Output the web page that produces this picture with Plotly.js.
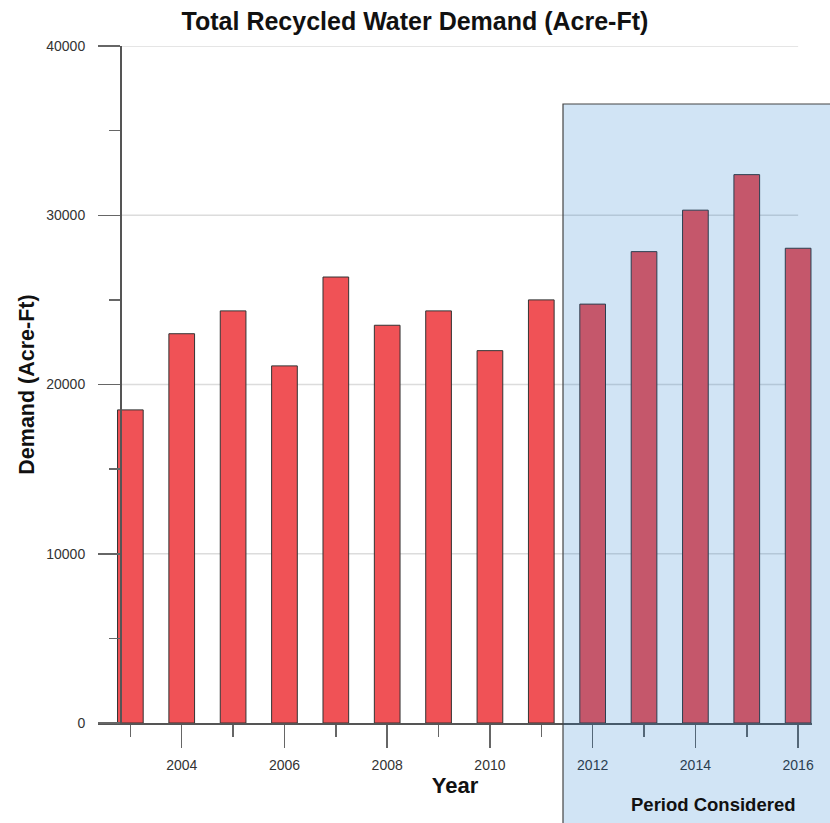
<!DOCTYPE html>
<html>
<head>
<meta charset="utf-8">
<script src="https://cdn.plot.ly/plotly-3.0.1.min.js"></script>
<style>html,body{margin:0;padding:0;background:#fff;}</style>
</head>
<body>
<div id="chart" style="width:830px;height:823px;"></div>
<script>
const years = [2003, 2004, 2005, 2006, 2007, 2008, 2009, 2010, 2011, 2012, 2013, 2014, 2015, 2016];
const demand = [18500, 23000, 24350, 21100, 26350, 23500, 24350, 22000, 25000, 24750, 27850, 30300, 32400, 28050];
const yMajorTicks = [0, 10000, 20000, 30000, 40000];
const yMinorTicks = [5000, 15000, 25000, 35000];
const xMajorTicks = [2004, 2006, 2008, 2010, 2012, 2014, 2016];
const xMinorTicks = [2003, 2005, 2007, 2009, 2011, 2013, 2015];

const FONT = 'Liberation Sans, Arial, sans-serif';

const gridShapes = yMajorTicks.filter(v => v > 0).map(v => ({
  type: 'line', xref: 'x', yref: 'y',
  x0: 2002.8, x1: years[years.length - 1], y0: v, y1: v,
  line: {color: '#dcdcdc', width: 1.5}, layer: 'below'
}));

const trace = {
  type: 'bar',
  x: years,
  y: demand,
  width: 0.5,
  marker: {color: 'rgb(240,82,86)', line: {color: '#333', width: 1}},
  hoverinfo: 'x+y'
};

const layout = {
  width: 830, height: 823, autosize: false,
  margin: {l: 98, r: 18, t: 46, b: 100, pad: 0},
  paper_bgcolor: '#fff', plot_bgcolor: 'rgba(0,0,0,0)',
  font: {family: FONT, color: '#333'},
  showlegend: false,
  title: {
    text: '<b>Total Recycled Water Demand (Acre-Ft)</b>',
    font: {family: FONT, size: 25, color: '#111'},
    x: 0.5, xanchor: 'center', y: 1 - 21 / 823, yanchor: 'middle'
  },
  xaxis: {
    range: [2002.37, 2016.27],
    showgrid: false, zeroline: false,
    showline: true, linecolor: '#555', linewidth: 1.5,
    ticks: 'outside', ticklen: 23, tickwidth: 1.5, tickcolor: '#666',
    tickmode: 'array', tickvals: xMajorTicks, ticktext: xMajorTicks.map(String),
    ticklabelstandoff: 6,
    tickfont: {family: FONT, size: 14, color: '#333'},
    minor: {tickmode: 'array', tickvals: xMinorTicks, ticks: 'outside', ticklen: 12, tickwidth: 1.5, tickcolor: '#666', showgrid: false},
    title: {text: '<b>Year</b>', font: {family: FONT, size: 22, color: '#111'}, standoff: 4}
  },
  yaxis: {
    range: [0, 40000],
    anchor: 'free', position: (120 - 98) / 714,
    showgrid: false, zeroline: false,
    showline: true, linecolor: '#555', linewidth: 1.5,
    ticks: 'outside', ticklen: 22, tickwidth: 1.5, tickcolor: '#666',
    tickmode: 'array', tickvals: yMajorTicks, ticktext: yMajorTicks.map(String),
    ticklabelstandoff: 10,
    tickfont: {family: FONT, size: 14, color: '#333'},
    minor: {tickmode: 'array', tickvals: yMinorTicks, ticks: 'outside', ticklen: 11, tickwidth: 1.5, tickcolor: '#666', showgrid: false},
    title: {text: '<b>Demand (Acre-Ft)</b>', font: {family: FONT, size: 21.5, color: '#111'}, standoff: 4}
  },
  shapes: gridShapes.concat([{
    type: 'rect', xref: 'paper', yref: 'paper',
    x0: (563 - 98) / 714, x1: 1.2, y0: -0.3, y1: (723 - 104) / 677,
    fillcolor: 'rgba(10,110,200,0.19)',
    line: {color: '#444', width: 1.2}, layer: 'above'
  }]),
  annotations: [{
    text: '<b>Period Considered</b>', xref: 'paper', yref: 'paper',
    x: (713 - 98) / 714, y: (723 - 804) / 677, xanchor: 'center', yanchor: 'middle',
    showarrow: false, font: {family: FONT, size: 18.5, color: '#111'}
  }]
};

Plotly.newPlot('chart', [trace], layout, {displayModeBar: false, staticPlot: true});
</script>
</body>
</html>
